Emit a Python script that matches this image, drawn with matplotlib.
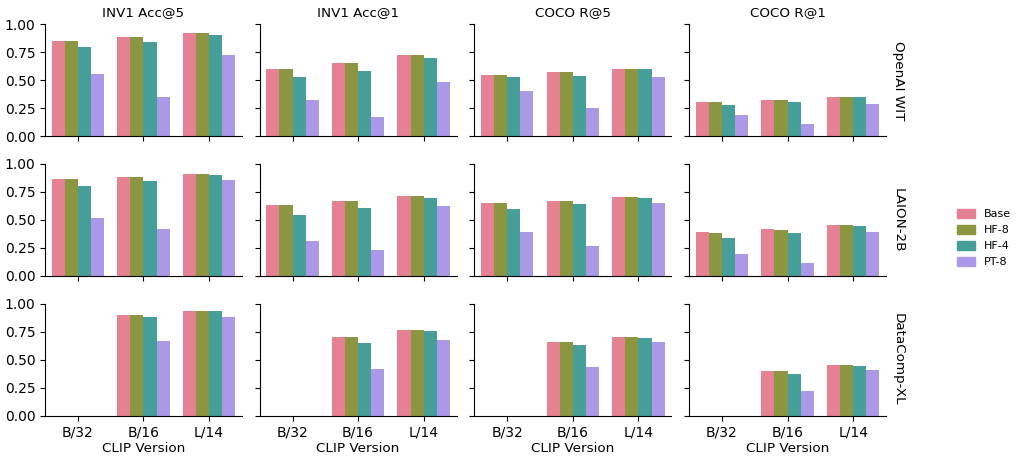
import numpy as np
import matplotlib
matplotlib.use('Agg')
import matplotlib.pyplot as plt
import seaborn as sns
from matplotlib.patches import Patch

clip_versions = ['B/32', 'B/16', 'L/14']
methods = ['Base', 'HF-8', 'HF-4', 'PT-8']
metrics = ['INV1 Acc@5', 'INV1 Acc@1', 'COCO R@5', 'COCO R@1']
datasets = ['OpenAI WIT', 'LAION-2B', 'DataComp-XL']

# scores[dataset][metric] -> rows per method, columns per CLIP version
openai_wit = {
    'INV1 Acc@5': [[0.851, 0.887, 0.923], [0.851, 0.887, 0.923], [0.798, 0.842, 0.905], [0.557, 0.351, 0.726]],
    'INV1 Acc@1': [[0.601, 0.655, 0.726], [0.601, 0.655, 0.726], [0.530, 0.583, 0.699], [0.327, 0.173, 0.485]],
    'COCO R@5':   [[0.548, 0.574, 0.601], [0.548, 0.574, 0.601], [0.530, 0.539, 0.601], [0.405, 0.253, 0.530]],
    'COCO R@1':   [[0.307, 0.324, 0.351], [0.307, 0.324, 0.351], [0.280, 0.307, 0.351], [0.190, 0.110, 0.289]],
}
laion_2b = {
    'INV1 Acc@5': [[0.866, 0.884, 0.911], [0.866, 0.884, 0.911], [0.804, 0.848, 0.902], [0.518, 0.420, 0.857]],
    'INV1 Acc@1': [[0.634, 0.670, 0.714], [0.634, 0.670, 0.714], [0.545, 0.607, 0.696], [0.313, 0.232, 0.625]],
    'COCO R@5':   [[0.652, 0.670, 0.705], [0.652, 0.670, 0.705], [0.598, 0.643, 0.696], [0.393, 0.268, 0.652]],
    'COCO R@1':   [[0.393, 0.420, 0.455], [0.384, 0.411, 0.455], [0.339, 0.384, 0.446], [0.196, 0.116, 0.393]],
}
# no B/32 model for DataComp-XL
datacomp_xl = {
    'INV1 Acc@5': [[np.nan, 0.899, 0.935], [np.nan, 0.899, 0.935], [np.nan, 0.881, 0.935], [np.nan, 0.667, 0.881]],
    'INV1 Acc@1': [[np.nan, 0.702, 0.765], [np.nan, 0.702, 0.765], [np.nan, 0.649, 0.756], [np.nan, 0.417, 0.676]],
    'COCO R@5':   [[np.nan, 0.658, 0.702], [np.nan, 0.658, 0.702], [np.nan, 0.631, 0.693], [np.nan, 0.435, 0.658]],
    'COCO R@1':   [[np.nan, 0.399, 0.452], [np.nan, 0.399, 0.452], [np.nan, 0.372, 0.443], [np.nan, 0.220, 0.408]],
}
scores = [openai_wit, laion_2b, datacomp_xl]

colors = [sns.desaturate(c, 0.75) for c in sns.color_palette('husl', len(methods))]

fig, axes = plt.subplots(3, 4, figsize=(10.27, 4.58), dpi=100, sharey=True)
fig.subplots_adjust(left=0.0438, right=0.8627, top=0.947, bottom=0.0924,
                    wspace=0.091, hspace=0.247)

x = np.arange(len(clip_versions))
bar_w = 0.8 / len(methods)
for r, ds in enumerate(datasets):
    for c, metric in enumerate(metrics):
        ax = axes[r, c]
        vals = scores[r][metric]
        for m, name in enumerate(methods):
            offs = (m - (len(methods) - 1) / 2) * bar_w
            ax.bar(x + offs, vals[m], width=bar_w, color=colors[m], label=name)
        ax.set_xlim(-0.5, 2.5)
        ax.set_ylim(0, 1.0)
        ax.set_yticks([0, 0.25, 0.5, 0.75, 1.0])
        ax.set_xticks(x)
        ax.spines['top'].set_visible(False)
        ax.spines['right'].set_visible(False)
        if r == 2:
            ax.set_xticklabels(clip_versions)
            ax.set_xlabel('CLIP Version', fontsize=9.7, labelpad=2)
        else:
            ax.set_xticklabels([])
        if r == 0:
            ax.set_title(metric, fontsize=9.7)
        if c == 3:
            ax.text(1.03, 0.5, ds, transform=ax.transAxes, rotation=270,
                    va='center', ha='left', fontsize=9.7)

handles = [Patch(color=colors[m], label=name) for m, name in enumerate(methods)]
fig.legend(handles=handles, loc='center left', bbox_to_anchor=(0.922, 0.48),
           frameon=False, fontsize=8, handlelength=1.6, handleheight=0.9)

plt.savefig('out.png', dpi=100)
